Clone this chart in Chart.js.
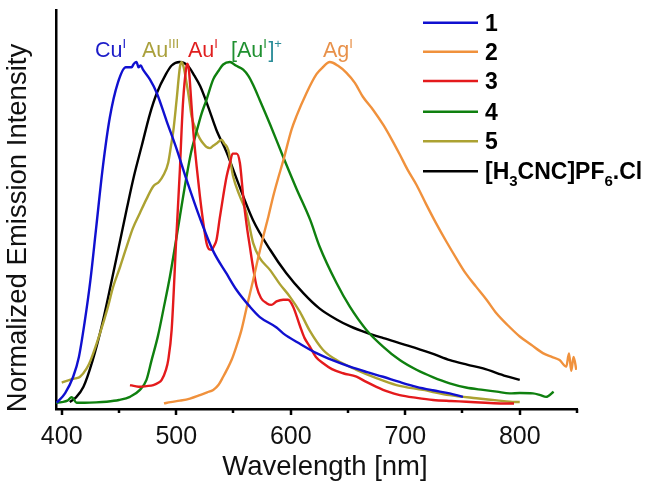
<!DOCTYPE html>
<html><head><meta charset="utf-8">
<script src="https://cdn.jsdelivr.net/npm/chart.js@4/dist/chart.umd.min.js"></script>
<style>html,body{margin:0;padding:0;background:#fff;}</style>
</head><body>
<canvas id="c" width="648" height="485"></canvas>
<script>
// ---- data (wavelength nm / normalized intensity) ----
const wl1 = [395.6,403,410,415,420,425,430,436,442,449,456,461,463,465.4,467,469,471,477,483,491.6,500.3,509,520.7,532.3,544,552.7,564.3,573,587.6,593.4,608,622.5,637,651.6,666,680.6,695,709.8,724,738.8,750.4];
const int1 = [0.018,0.046,0.093,0.15,0.25,0.37,0.52,0.70,0.84,0.94,0.985,0.985,0.995,1.0,0.985,0.99,0.978,0.95,0.911,0.83,0.75,0.661,0.55,0.455,0.39,0.343,0.295,0.265,0.235,0.218,0.188,0.161,0.14,0.122,0.107,0.093,0.078,0.064,0.054,0.045,0.035];

const wl2 = [489.3,495,503.2,512,520.7,527,532.3,537,541,544.5,548.3,552.5,557,562,567.2,571.5,576,580.5,584.7,589,593.4,600.7,605,613.8,622.5,628,634.1,641,648.7,656,663,672,681,688,695,702,710,718,727,736,745,753,762,771,779.6,790,800,810,820.2,828,834.8,840.6,843,845,847,849.4];
const int2 = [0.016,0.02,0.024,0.03,0.04,0.048,0.055,0.07,0.093,0.115,0.141,0.18,0.228,0.3,0.372,0.435,0.497,0.555,0.613,0.665,0.715,0.805,0.844,0.911,0.965,0.985,1.0,0.99,0.969,0.94,0.90,0.862,0.818,0.778,0.735,0.69,0.645,0.592,0.535,0.482,0.432,0.39,0.352,0.315,0.276,0.24,0.209,0.185,0.161,0.15,0.141,0.122,0.16,0.11,0.15,0.113];

const wl3 = [459.6,464,468.3,474,480,484,487.3,491,493,496,500,503.2,504.7,506.1,508.5,509.6,511,512,514.8,517.8,520.7,523.5,526.5,529,530.9,533,535.2,538,541,544,546.9,549.2,552.7,555.6,558.5,561.5,564.3,567,570.2,574,578.9,583,587.6,593.4,597.7,602.1,608,612,616.7,622,628.3,636,645.7,657.4,666,674.8,685,695.2,710,724.3,740,753.4,770,785.3,795];
const int3 = [0.069,0.066,0.064,0.066,0.069,0.075,0.084,0.113,0.141,0.228,0.49,0.69,0.805,0.892,0.978,0.995,0.98,0.94,0.805,0.70,0.613,0.54,0.478,0.46,0.459,0.47,0.488,0.55,0.613,0.67,0.709,0.736,0.736,0.709,0.613,0.53,0.468,0.41,0.353,0.32,0.305,0.3,0.31,0.315,0.315,0.295,0.24,0.205,0.18,0.15,0.132,0.115,0.103,0.093,0.078,0.064,0.05,0.04,0.032,0.026,0.023,0.021,0.018,0.016,0.016];

const wl4 = [395,400,405,408.7,413,420,430,439,450,459.6,468.3,474,478.5,484,489,494.5,499,503.2,509,513,517.8,522,526.5,532.3,537,541,546.9,552,558.5,563,567,573,582,593,605,617,625,640,651.6,666.1,680.6,695.2,709.8,724,738.8,753,767.9,780,791.2,800,811.5,818,823,829.6];
const int4 = [0.018,0.02,0.024,0.034,0.018,0.018,0.019,0.021,0.026,0.035,0.055,0.084,0.141,0.21,0.29,0.382,0.47,0.555,0.67,0.74,0.8,0.85,0.892,0.95,0.975,0.993,1.0,0.99,0.978,0.96,0.935,0.89,0.82,0.73,0.635,0.545,0.47,0.363,0.295,0.228,0.18,0.141,0.113,0.092,0.074,0.062,0.055,0.05,0.045,0.046,0.045,0.04,0.035,0.05];

const wl5 = [400,407,412,416,421.8,425.3,433.4,440,445,451,456.7,462,468.3,474,480,485,489,493,495.5,497.4,500.3,503.2,504.7,506.5,509,511,513.4,517.8,520.5,523.6,526.5,529.4,532,535.2,539.6,542,545.4,549.7,555.6,561.4,567.2,573,581.8,590.5,599.2,608,616.7,628.3,640,657.4,674.8,692.3,715.5,738.8,762.1,780,791.2,800];
const int5 = [0.076,0.084,0.088,0.093,0.117,0.141,0.218,0.29,0.353,0.41,0.468,0.52,0.565,0.605,0.642,0.655,0.675,0.71,0.76,0.80,0.89,0.985,1.0,0.985,0.94,0.9,0.844,0.8,0.78,0.765,0.755,0.752,0.758,0.765,0.776,0.765,0.747,0.67,0.613,0.565,0.478,0.435,0.401,0.36,0.324,0.28,0.225,0.17,0.141,0.113,0.089,0.069,0.055,0.04,0.031,0.025,0.021,0.02];

const wl6 = [407,412,419,427,435,443,450,457,463,470,477,483,491,496,503,510,516,521,528,535,544,553,567,582,596,611,625,640,652,666,681,695,710,725,739,754,768,788,800];
const int6 = [0.02,0.032,0.064,0.14,0.24,0.36,0.47,0.58,0.67,0.76,0.85,0.91,0.965,0.99,1.0,0.99,0.96,0.93,0.87,0.805,0.74,0.661,0.545,0.459,0.392,0.334,0.29,0.258,0.238,0.22,0.204,0.19,0.175,0.158,0.141,0.128,0.117,0.095,0.084];

const xTicksLabeled = [400,500,600,700,800];
const seriesNames = ['1','2','3','4','5','[H3CNC]PF6.Cl'];
const colors = ['#1010d0','#f0913c','#e41a1c','#0f800f','#aca232','#000000'];

const legendRich = [
  [{t:'1'}],[{t:'2'}],[{t:'3'}],[{t:'4'}],[{t:'5'}],
  [{t:'[H'},{t:'3',s:'sub'},{t:'CNC]PF'},{t:'6',s:'sub'},{t:'.Cl'}]
];
const annotations = [
  {x:95, segs:[{t:'Cu',c:'#1c1cc8'},{t:'I',s:'sup',c:'#1c1cc8'}]},
  {x:142,segs:[{t:'Au',c:'#aaa03c'},{t:'III',s:'sup',c:'#aaa03c'}]},
  {x:188,segs:[{t:'Au',c:'#e01e1e'},{t:'I',s:'sup',c:'#e01e1e'}]},
  {x:231,segs:[{t:'[Au',c:'#1f9030'},{t:'I',s:'sup',c:'#1f9030'},{t:']',c:'#2a8c98'},{t:'+',s:'sup',c:'#2a8c98'}]},
  {x:323,segs:[{t:'Ag',c:'#e8914a'},{t:'I',s:'sup',c:'#e8914a'}]}
];

const FONT = '"Liberation Sans", Arial, sans-serif';
function mk(xs, ys){ return xs.map((x,i)=>({x:x, y:ys[i]})); }
const series = [[wl1,int1],[wl2,int2],[wl3,int3],[wl4,int4],[wl5,int5],[wl6,int6]];

function drawRich(ctx, x, y, segs, size, bold, defColor, subRatio){
  for (const s of segs){
    const sz = s.s ? Math.round(size*(subRatio||0.62)) : size;
    ctx.font = (bold?'bold ':'') + sz + 'px ' + FONT;
    let dy = 0;
    if (s.s === 'sup') dy = -size*0.42;
    if (s.s === 'sub') dy = size*0.28;
    ctx.fillStyle = s.c || defColor;
    ctx.fillText(s.t, x, y+dy);
    x += ctx.measureText(s.t).width + (s.s==='sup' ? 1.5 : 0);
  }
}

const extras = {
  id:'extras',
  afterDraw(chart){
    const ctx = chart.ctx, xs = chart.scales.x, area = chart.chartArea;
    ctx.save();
    ctx.strokeStyle = '#000'; ctx.lineWidth = 2.5;
    xs.ticks.forEach(t=>{
      const px = Math.round(xs.getPixelForValue(t.value));
      const len = (t.value % 100 === 0) ? 6 : 4;
      ctx.beginPath(); ctx.moveTo(px, area.bottom); ctx.lineTo(px, area.bottom+len); ctx.stroke();
    });
    // axis titles
    ctx.fillStyle = '#111'; ctx.textAlign = 'center'; ctx.textBaseline = 'middle';
    ctx.font = '27.5px ' + FONT;
    ctx.fillText('Wavelength [nm]', 325, 467);
    ctx.save();
    ctx.translate(18, 228); ctx.rotate(-Math.PI/2);
    ctx.fillText('Normalized Emission Intensity', 0, 0);
    ctx.restore();
    // legend
    ctx.textBaseline = 'alphabetic'; ctx.textAlign = 'left';
    const rows = [22.7,51.7,81,111.7,141.3,171.3];
    chart.data.datasets.forEach((ds,i)=>{
      const y = rows[i];
      ctx.strokeStyle = ds.borderColor; ctx.lineWidth = 2.5;
      ctx.beginPath(); ctx.moveTo(423, y); ctx.lineTo(478, y); ctx.stroke();
      drawRich(ctx, 485, y+8, legendRich[i], 23, true, '#000', 0.66);
    });
    // peak annotations
    annotations.forEach(a=>drawRich(ctx, a.x, 57, a.segs, 21.5, false));
    ctx.restore();
  }
};

new Chart(document.getElementById('c'), {
  type:'line',
  data:{ datasets: series.map((s,i)=>({
    label: seriesNames[i], data: mk(s[0], s[1]), borderColor: colors[i],
    borderWidth: 2.4, pointRadius: 0, fill:false, cubicInterpolationMode:'monotone'
  }))},
  options:{
    responsive:false, animation:false, devicePixelRatio:1,
    layout:{ padding:{ top:10, right:71, left:0, bottom:0 } },
    plugins:{ legend:{display:false}, tooltip:{enabled:false} },
    scales:{
      x:{ type:'linear', min:395, max:850,
        ticks:{ stepSize:50, includeBounds:false, autoSkip:false, maxRotation:0, padding:13,
          color:'#111', font:{family:FONT, size:25},
          callback:(v)=> xTicksLabeled.includes(v) ? String(v) : '' },
        grid:{ display:true, drawOnChartArea:false, drawTicks:false },
        border:{ display:true, color:'#000', width:2.5 },
        title:{ display:false },
        afterFit(s){ s.height = 76; }
      },
      y:{ min:0, max:1.15,
        ticks:{ display:false },
        grid:{ display:false },
        border:{ display:true, color:'#000', width:2.5 },
        afterFit(s){ s.width = 56; }
      }
    }
  },
  plugins:[extras]
});
</script>
</body></html>
